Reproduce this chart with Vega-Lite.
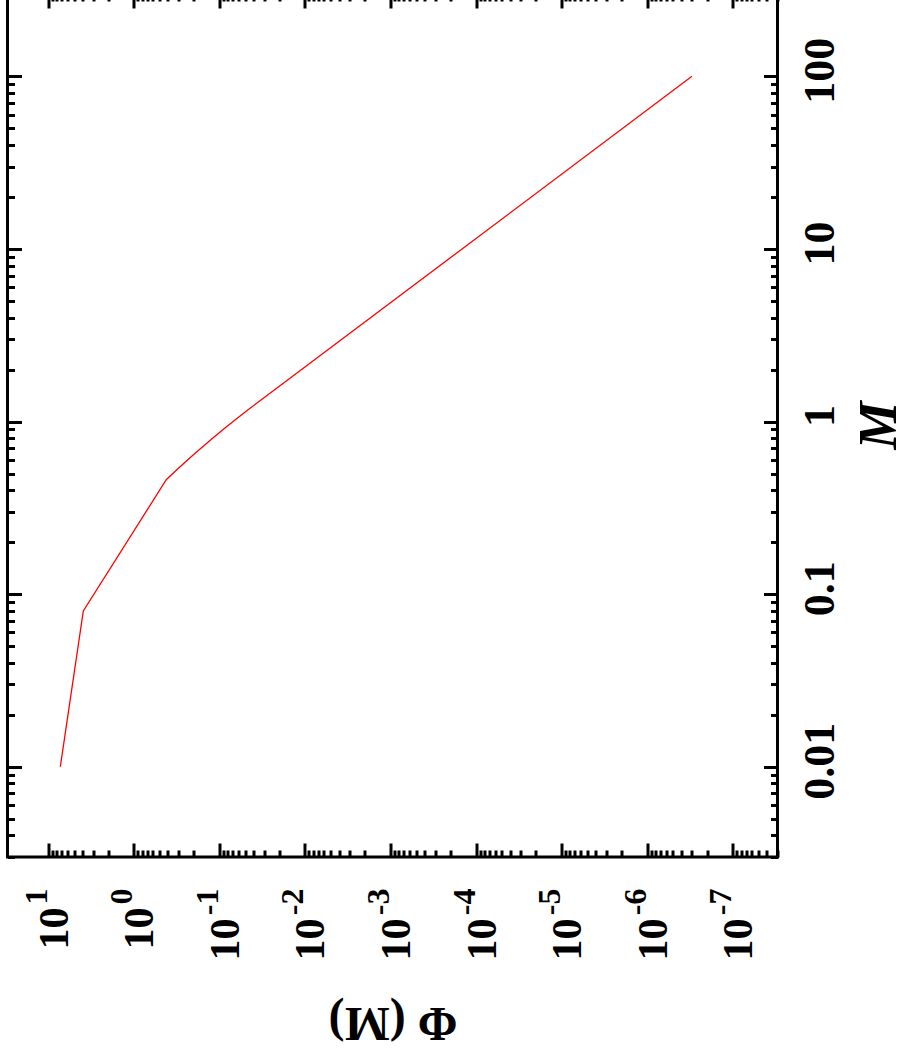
{
  "$schema": "https://vega.github.io/schema/vega-lite/v6.json",
  "width": 770,
  "height": 863,
  "autosize": {"type": "none"},
  "padding": {"left": 7.5, "top": -6, "right": 126.5, "bottom": 204},
  "background": "white",
  "config": {
    "view": {"stroke": "black", "strokeWidth": 3},
    "axis": {
      "grid": false,
      "domain": false,
      "labelColor": "black",
      "titleColor": "black",
      "tickColor": "black",
      "labelFont": "Liberation Serif",
      "titleFont": "Liberation Serif",
      "labelFontWeight": "bold",
      "titleFontWeight": "bold",
      "labelOverlap": false,
      "labelFlush": false,
      "labelBound": false,
      "tickWidth": 3
    }
  },
  "data": {
    "values": [
      {"M": 0.01, "phi": 7.24},
      {"M": 0.08, "phi": 3.9},
      {"M": 0.4601, "phi": 0.4182},
      {"M": 0.5256, "phi": 0.3147},
      {"M": 0.6007, "phi": 0.2346},
      {"M": 0.6864, "phi": 0.1726},
      {"M": 0.7845, "phi": 0.126},
      {"M": 0.8965, "phi": 0.09127},
      {"M": 1.024, "phi": 0.06523},
      {"M": 1.171, "phi": 0.04622},
      {"M": 1.338, "phi": 0.0324},
      {"M": 10, "phi": 0.0001459},
      {"M": 100, "phi": 3.0e-7}
    ]
  },
  "layer": [
    {
      "mark": {"type": "line", "color": "#ff0000", "strokeWidth": 1.3, "clip": true},
      "encoding": {
        "x": {
          "field": "phi", "type": "quantitative",
          "scale": {"type": "log", "domain": [3e-8, 30], "reverse": true},
          "axis": {
            "orient": "bottom",
            "values": [10, 1, 0.1, 0.01, 0.001, 0.0001, 1e-5, 1e-6, 1e-7],
            "labelExpr": "'10'",
            "ticks": false,
            "labelAngle": -90,
            "labelAlign": "right",
            "labelBaseline": "middle",
            "labelFontSize": 42,
            "labelPadding": {"condition": {"test": "datum.value >= 1", "value": 50}, "value": 61},
            "labelOffset": 6,
            "title": null
          }
        },
        "y": {
          "field": "M", "type": "quantitative",
          "scale": {"type": "log", "domain": [0.003, 300]},
          "axis": {
            "orient": "right",
            "values": [0.01, 0.1, 1, 10, 100],
            "labelExpr": "datum.value >= 1 ? format(datum.value, 'd') : format(datum.value, '.2~f')",
            "ticks": false,
            "labelAngle": -90,
            "labelAlign": "center",
            "labelBaseline": "top",
            "labelFontSize": 44,
            "labelPadding": 21,
            "labelOffset": -6,
            "title": "M",
            "titleFontStyle": "italic",
            "titleFontSize": 54,
            "titleAngle": 270,
            "titleAlign": "center",
            "titleBaseline": "alphabetic",
            "titleX": 118,
            "titleY": 431
          }
        }
      }
    },
    {
      "mark": {"type": "line", "strokeOpacity": 0},
      "encoding": {
        "x": {
          "field": "phi", "type": "quantitative",
          "scale": {"type": "log", "domain": [3e-8, 30], "reverse": true},
          "axis": {
            "orient": "bottom",
            "values": [10, 1, 0.1, 0.01, 0.001, 0.0001, 1e-5, 1e-6, 1e-7],
            "labelExpr": "'' + round(log(datum.value) / LN10)",
            "ticks": false,
            "labelAngle": -90,
            "labelAlign": "right",
            "labelBaseline": "middle",
            "labelFontSize": 32,
            "labelPadding": 31,
            "labelOffset": -12,
            "title": "Φ (M)",
            "titleFontSize": 48,
            "titleAngle": 180,
            "titleAlign": "center",
            "titleBaseline": "middle",
            "titleX": 385,
            "titleY": 164
          }
        },
        "y": {
          "field": "M", "type": "quantitative",
          "scale": {"type": "log", "domain": [0.003, 300]},
          "axis": {
            "orient": "right",
            "values": [0.003, 0.004, 0.005, 0.006, 0.007, 0.008, 0.009, 0.01, 0.02, 0.03, 0.04, 0.05, 0.06, 0.07, 0.08, 0.09, 0.1, 0.2, 0.3, 0.4, 0.5, 0.6, 0.7, 0.8, 0.9, 1, 2, 3, 4, 5, 6, 7, 8, 9, 10, 20, 30, 40, 50, 60, 70, 80, 90, 100],
            "labels": false,
            "tickSize": {"condition": {"test": "abs(log(datum.value) / LN10 - round(log(datum.value) / LN10)) < 0.01", "value": -14}, "value": -7},
            "title": null
          }
        }
      }
    },
    {
      "mark": {"type": "line", "strokeOpacity": 0},
      "encoding": {
        "x": {
          "field": "phi", "type": "quantitative",
          "scale": {"type": "log", "domain": [3e-8, 30], "reverse": true},
          "axis": {
            "orient": "bottom",
            "values": [3e-8, 4e-8, 5e-8, 6e-8, 7e-8, 8e-8, 9e-8, 1e-7, 2e-7, 3e-7, 4e-7, 5e-7, 6e-7, 7e-7, 8e-7, 9e-7, 1e-6, 2e-6, 3e-6, 4e-6, 5e-6, 6e-6, 7e-6, 8e-6, 9e-6, 1e-5, 2e-5, 3e-5, 4e-5, 5e-5, 6e-5, 7e-5, 8e-5, 9e-5, 0.0001, 0.0002, 0.0003, 0.0004, 0.0005, 0.0006, 0.0007, 0.0008, 0.0009, 0.001, 0.002, 0.003, 0.004, 0.005, 0.006, 0.007, 0.008, 0.009, 0.01, 0.02, 0.03, 0.04, 0.05, 0.06, 0.07, 0.08, 0.09, 0.1, 0.2, 0.3, 0.4, 0.5, 0.6, 0.7, 0.8, 0.9, 1, 2, 3, 4, 5, 6, 7, 8, 9, 10],
            "labels": false,
            "tickSize": {"condition": {"test": "abs(log(datum.value) / LN10 - round(log(datum.value) / LN10)) < 0.01", "value": -14}, "value": -7},
            "title": null
          }
        },
        "y": {
          "field": "M", "type": "quantitative",
          "scale": {"type": "log", "domain": [0.003, 300]},
          "axis": {
            "orient": "left",
            "values": [0.003, 0.004, 0.005, 0.006, 0.007, 0.008, 0.009, 0.01, 0.02, 0.03, 0.04, 0.05, 0.06, 0.07, 0.08, 0.09, 0.1, 0.2, 0.3, 0.4, 0.5, 0.6, 0.7, 0.8, 0.9, 1, 2, 3, 4, 5, 6, 7, 8, 9, 10, 20, 30, 40, 50, 60, 70, 80, 90, 100],
            "labels": false,
            "tickSize": {"condition": {"test": "abs(log(datum.value) / LN10 - round(log(datum.value) / LN10)) < 0.01", "value": -14}, "value": -7},
            "title": null
          }
        }
      }
    },
    {
      "mark": {"type": "line", "strokeOpacity": 0},
      "encoding": {
        "x": {
          "field": "phi", "type": "quantitative",
          "scale": {"type": "log", "domain": [3e-8, 30], "reverse": true},
          "axis": {
            "orient": "top",
            "values": [3e-8, 4e-8, 5e-8, 6e-8, 7e-8, 8e-8, 9e-8, 1e-7, 2e-7, 3e-7, 4e-7, 5e-7, 6e-7, 7e-7, 8e-7, 9e-7, 1e-6, 2e-6, 3e-6, 4e-6, 5e-6, 6e-6, 7e-6, 8e-6, 9e-6, 1e-5, 2e-5, 3e-5, 4e-5, 5e-5, 6e-5, 7e-5, 8e-5, 9e-5, 0.0001, 0.0002, 0.0003, 0.0004, 0.0005, 0.0006, 0.0007, 0.0008, 0.0009, 0.001, 0.002, 0.003, 0.004, 0.005, 0.006, 0.007, 0.008, 0.009, 0.01, 0.02, 0.03, 0.04, 0.05, 0.06, 0.07, 0.08, 0.09, 0.1, 0.2, 0.3, 0.4, 0.5, 0.6, 0.7, 0.8, 0.9, 1, 2, 3, 4, 5, 6, 7, 8, 9, 10],
            "labels": false,
            "tickSize": {"condition": {"test": "abs(log(datum.value) / LN10 - round(log(datum.value) / LN10)) < 0.01", "value": -14}, "value": -7},
            "title": null
          }
        },
        "y": {
          "field": "M", "type": "quantitative",
          "scale": {"type": "log", "domain": [0.003, 300]},
          "axis": null
        }
      }
    }
  ],
  "resolve": {"axis": {"x": "independent", "y": "independent"}}
}
